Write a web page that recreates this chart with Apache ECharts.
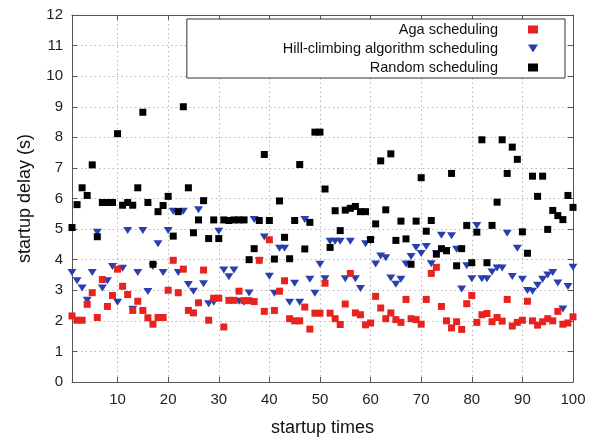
<!DOCTYPE html>
<html>
<head>
<meta charset="utf-8">
<script src="https://cdn.jsdelivr.net/npm/echarts@6/dist/echarts.min.js"></script>
<style>
html,body{margin:0;padding:0;background:#fff;}
#chart{width:591px;height:442px;}
</style>
</head>
<body>
<div id="chart"></div>
<script>
const startupTimes = [1,2,3,4,5,6,7,8,9,10,11,12,13,14,15,16,17,18,19,20,
21,22,23,24,25,26,27,28,29,30,31,32,33,34,35,36,37,38,39,40,
41,42,43,44,45,46,47,48,49,50,51,52,53,54,55,56,57,58,59,60,
61,62,63,64,65,66,67,68,69,70,71,72,73,74,75,76,77,78,79,80,
81,82,83,84,85,86,87,88,89,90,91,92,93,94,95,96,97,98,99,100];

const agaDelay = [2.16,2.02,2.02,2.54,2.92,2.11,3.35,2.47,2.83,3.69,
3.13,2.86,2.34,2.64,2.34,2.10,1.89,2.11,2.11,3.00,
3.98,2.92,3.69,2.34,2.26,2.59,3.66,2.02,2.74,2.74,
1.80,2.67,2.67,2.97,2.66,2.66,2.63,3.98,2.31,4.65,
2.34,2.97,3.31,2.07,2.00,2.00,2.45,1.73,2.25,2.25,
3.23,2.25,2.07,1.88,2.55,3.55,2.26,2.20,1.87,1.93,
2.80,2.42,2.07,2.26,2.04,1.95,2.70,2.07,2.04,1.89,
2.70,3.55,3.75,2.47,2.00,1.77,1.97,1.72,2.56,2.83,
1.95,2.20,2.24,1.97,2.11,1.99,2.70,1.83,1.95,2.02,
2.64,2.00,1.86,1.97,2.07,2.00,2.31,1.89,1.93,2.13];

const hillDelay = [3.58,3.31,3.07,2.67,3.58,4.90,3.07,3.31,3.78,2.61,
3.72,4.95,2.38,3.58,4.95,2.96,3.78,4.52,3.58,4.95,
5.58,3.58,5.58,3.19,2.97,5.63,3.21,2.56,2.61,4.93,
3.66,3.44,3.66,2.64,2.61,2.91,5.31,3.96,4.74,3.46,
2.90,4.37,4.37,2.61,3.23,2.61,5.31,3.36,2.90,3.85,
3.38,4.60,4.60,4.60,3.38,4.60,3.38,3.06,4.52,4.62,
3.86,4.12,4.06,3.40,3.20,3.36,3.86,4.10,4.40,4.20,
4.43,3.87,4.20,4.80,4.30,4.78,4.34,3.04,3.80,3.38,
5.12,3.38,3.38,3.60,3.73,3.73,4.86,3.45,4.37,3.36,
2.99,2.97,3.16,3.36,3.50,3.58,3.24,2.39,3.12,3.75];

const randomDelay = [5.05,5.80,6.35,6.10,7.10,4.75,5.87,5.87,5.87,8.12,
5.78,5.87,5.78,6.35,8.82,5.87,3.85,5.57,5.77,6.07,
4.77,5.57,9.00,6.35,4.88,5.30,5.93,4.69,5.30,4.69,
5.30,5.28,5.30,5.30,5.30,4.00,4.36,5.28,7.44,5.28,
4.02,5.92,4.73,4.03,5.28,7.11,4.35,5.22,8.17,8.17,
6.31,4.40,5.60,4.95,5.62,5.68,5.74,5.57,5.57,4.66,
5.17,7.23,5.63,7.46,4.63,5.26,4.68,3.85,5.26,6.68,
4.93,5.28,4.18,4.36,4.29,6.82,3.80,4.36,5.12,3.90,
4.90,7.92,3.90,5.12,5.88,7.92,6.82,7.68,7.28,4.91,
4.21,6.73,6.07,6.73,4.99,5.61,5.44,5.31,6.10,5.71];

const xTickValues = [10,20,30,40,50,60,70,80,90,100];
const seriesNames = ['Aga scheduling','Hill-climbing algorithm scheduling','Random scheduling'];

const FONT = '"Liberation Sans", Arial, sans-serif';
const pair = (ys) => ys.map((y, i) => [startupTimes[i], y]);
const downTri = 'path://M0,0 L10,0 L5,8 Z';
const RED = '#e8231f', BLUE = '#2a3fae', BLACK = '#000';

const xBase = {
  type: 'value', min: 1, max: 100,
  axisLine: { show: true, onZero: false, lineStyle: { color: '#555', width: 1 } },
  axisTick: { show: true, inside: true, length: 5, customValues: xTickValues, lineStyle: { color: '#555' } },
  splitLine: { show: false }
};
const yBase = {
  type: 'value', min: 0, max: 12, interval: 1,
  axisLine: { show: true, onZero: false, lineStyle: { color: '#555', width: 1 } },
  axisTick: { show: true, inside: true, length: 5, lineStyle: { color: '#555' } },
  splitLine: { show: false }
};

const chart = echarts.init(document.getElementById('chart'), null, { renderer: 'canvas' });
chart.setOption({
  animation: false,
  backgroundColor: '#fff',
  textStyle: { fontFamily: FONT },
  grid: { left: 72, right: 18, top: 15, bottom: 57 },
  legend: {
    orient: 'vertical',
    align: 'right',
    right: 26, top: 19,
    padding: [2, 27, 2, 96],
    itemGap: 2,
    itemWidth: 10, itemHeight: 8,
    backgroundColor: '#fff',
    borderColor: '#333', borderWidth: 1,
    textStyle: { fontSize: 14.5, color: '#111', fontFamily: FONT, lineHeight: 17, padding: [0, 25, 0, 0] },
    data: [
      { name: seriesNames[0], icon: 'rect' },
      { name: seriesNames[1], icon: downTri },
      { name: seriesNames[2], icon: 'rect' }
    ]
  },
  xAxis: [
    Object.assign({}, xBase, {
      position: 'bottom',
      name: 'startup times', nameLocation: 'middle', nameGap: 37,
      nameTextStyle: { fontSize: 18, color: '#111', fontFamily: FONT },
      axisLabel: { show: true, customValues: xTickValues, margin: 10, fontSize: 15, color: '#222', fontFamily: FONT },
      splitLine: { show: true, lineStyle: { color: '#b8b8b8', type: [1.5, 3], width: 1 } }
    }),
    Object.assign({}, xBase, { position: 'top', axisLabel: { show: false } })
  ],
  yAxis: [
    Object.assign({}, yBase, {
      position: 'left',
      name: 'startup delay (s)', nameLocation: 'middle', nameGap: 38, nameRotate: 90,
      nameTextStyle: { fontSize: 18, color: '#111', fontFamily: FONT },
      axisLabel: { show: true, margin: 9, fontSize: 15, color: '#222', fontFamily: FONT },
      splitLine: { show: true, lineStyle: { color: '#b8b8b8', type: [1.5, 3], width: 1 } }
    }),
    Object.assign({}, yBase, { position: 'right', axisLabel: { show: false } })
  ],
  series: [
    {
      name: seriesNames[0], type: 'scatter', xAxisIndex: 0, yAxisIndex: 0,
      symbol: 'rect', symbolSize: 7,
      itemStyle: { color: RED, opacity: 1 },
      data: pair(agaDelay), z: 3
    },
    {
      name: seriesNames[1], type: 'scatter', xAxisIndex: 0, yAxisIndex: 0,
      symbol: downTri, symbolSize: [9, 7],
      itemStyle: { color: BLUE, opacity: 1 },
      data: pair(hillDelay), z: 2
    },
    {
      name: seriesNames[2], type: 'scatter', xAxisIndex: 0, yAxisIndex: 0,
      symbol: 'rect', symbolSize: 7,
      itemStyle: { color: BLACK, opacity: 1 },
      data: pair(randomDelay), z: 4
    }
  ]
});
</script>
</body>
</html>
